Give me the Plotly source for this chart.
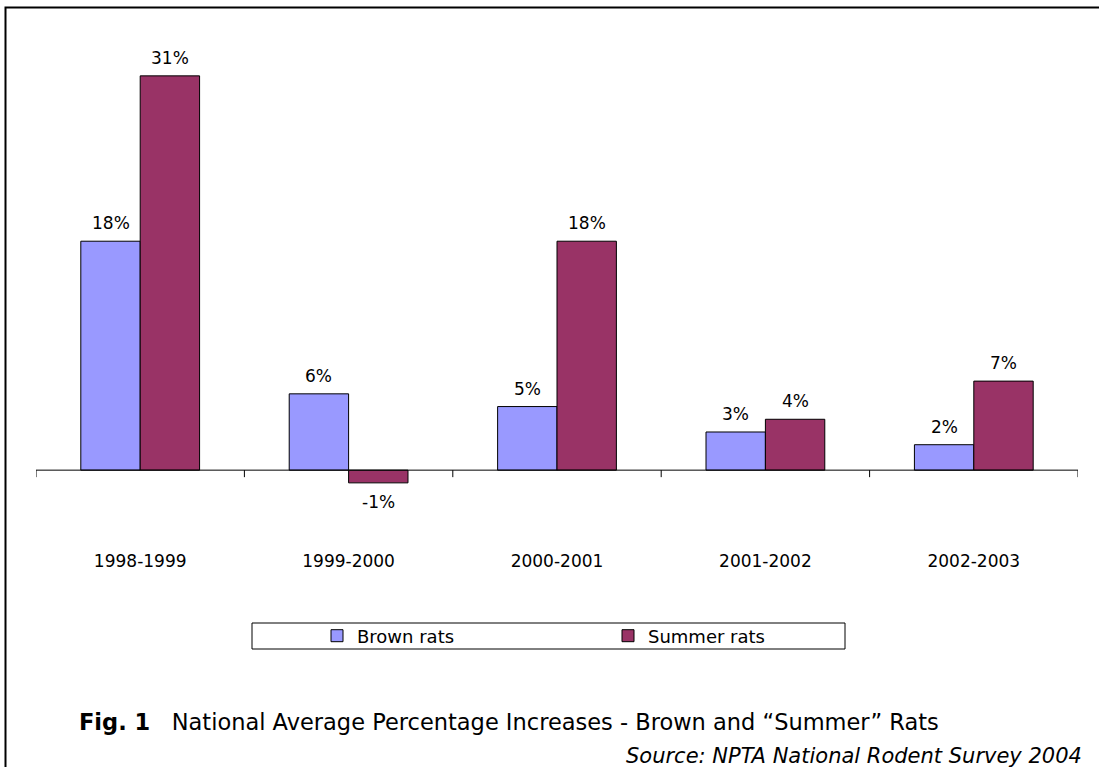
import plotly.graph_objects as go

# Survey periods and average percentage increases per rat type
periods = ["1998-1999", "1999-2000", "2000-2001", "2001-2002", "2002-2003"]
brown_rats = [18, 6, 5, 3, 2]
summer_rats = [31, -1, 18, 4, 7]

BROWN_COLOR = "#9999FF"
SUMMER_COLOR = "#993366"
FONT = "DejaVu Sans"

# Page geometry (pixels)
W, H = 1099, 767
L, R, T, B = 36, 21, 25, 218
BARGAP = 0.43


def paper_x(px):
    return (px - L) / (W - L - R)


def paper_y(py):
    return (H - B - py) / (H - T - B)


fig = go.Figure()
fig.add_trace(go.Bar(
    name="Brown rats", x=periods, y=brown_rats,
    marker=dict(color=BROWN_COLOR, line=dict(color="#000000", width=1)),
))
fig.add_trace(go.Bar(
    name="Summer rats", x=periods, y=summer_rats,
    marker=dict(color=SUMMER_COLOR, line=dict(color="#000000", width=1)),
))

# Value labels above (or below, for negatives) each bar
bar_w = (1 - BARGAP) / 2
annotations = []
for offset, series in ((-bar_w / 2, brown_rats), (bar_w / 2, summer_rats)):
    for i, v in enumerate(series):
        annotations.append(dict(
            x=i + offset, y=v, xref="x", yref="y",
            text=f"{v}%", showarrow=False,
            yanchor="bottom" if v >= 0 else "top",
            yshift=6 if v >= 0 else -7,
            font=dict(family=FONT, size=17, color="#000000"),
        ))

# Caption and source
annotations.append(dict(
    x=paper_x(77), y=paper_y(722), xref="paper", yref="paper",
    xanchor="left", yanchor="middle", showarrow=False,
    text="<b>Fig. 1</b>\u00a0\u00a0 National Average Percentage Increases - Brown and \u201cSummer\u201d Rats",
    font=dict(family=FONT, size=22.5, color="#000000"),
))
annotations.append(dict(
    x=paper_x(1084), y=paper_y(756), xref="paper", yref="paper",
    xanchor="right", yanchor="middle", showarrow=False,
    text="<i>Source: NPTA National Rodent Survey 2004</i>",
    font=dict(family=FONT, size=21, color="#000000"),
))

shapes = []
# Category axis drawn at zero, with tick marks between the groups
shapes.append(dict(type="line", xref="x", yref="y", x0=-0.5, x1=len(periods) - 0.5,
                   y0=0, y1=0, line=dict(color="#000000", width=1)))
for k in range(len(periods) + 1):
    shapes.append(dict(type="line", xref="x", yref="y", ysizemode="pixel", yanchor=0,
                       x0=k - 0.5, x1=k - 0.5, y0=0, y1=-7,
                       line=dict(color="#000000", width=1)))
# Legend box
shapes.append(dict(type="rect", xref="paper", yref="paper",
                   x0=paper_x(252), x1=paper_x(845), y0=paper_y(649), y1=paper_y(623),
                   line=dict(color="#000000", width=1), fillcolor="rgba(0,0,0,0)"))
# Outer frame
shapes.append(dict(type="rect", xref="paper", yref="paper",
                   x0=paper_x(5.5), x1=paper_x(W + 20), y0=paper_y(H + 20), y1=paper_y(7.5),
                   line=dict(color="#000000", width=2), fillcolor="rgba(0,0,0,0)"))

fig.update_layout(
    width=W, height=H,
    margin=dict(l=L, r=R, t=T, b=B),
    paper_bgcolor="#FFFFFF", plot_bgcolor="#FFFFFF",
    barmode="group", bargap=BARGAP, bargroupgap=0,
    font=dict(family=FONT, size=17, color="#000000"),
    xaxis=dict(showgrid=False, showline=False, zeroline=False, ticks="",
               tickfont=dict(family=FONT, size=17, color="#000000"),
               range=[-0.5, len(periods) - 0.5]),
    yaxis=dict(visible=False, range=[-6.2, 35], showgrid=False, zeroline=False),
    showlegend=True,
    legend=dict(orientation="h", x=paper_x(317), y=paper_y(636), xanchor="left", yanchor="middle",
                entrywidth=246, entrywidthmode="pixels",
                font=dict(family=FONT, size=18, color="#000000"),
                bgcolor="rgba(0,0,0,0)", borderwidth=0),
    shapes=shapes,
    annotations=annotations,
)

fig.write_html("out.html")
